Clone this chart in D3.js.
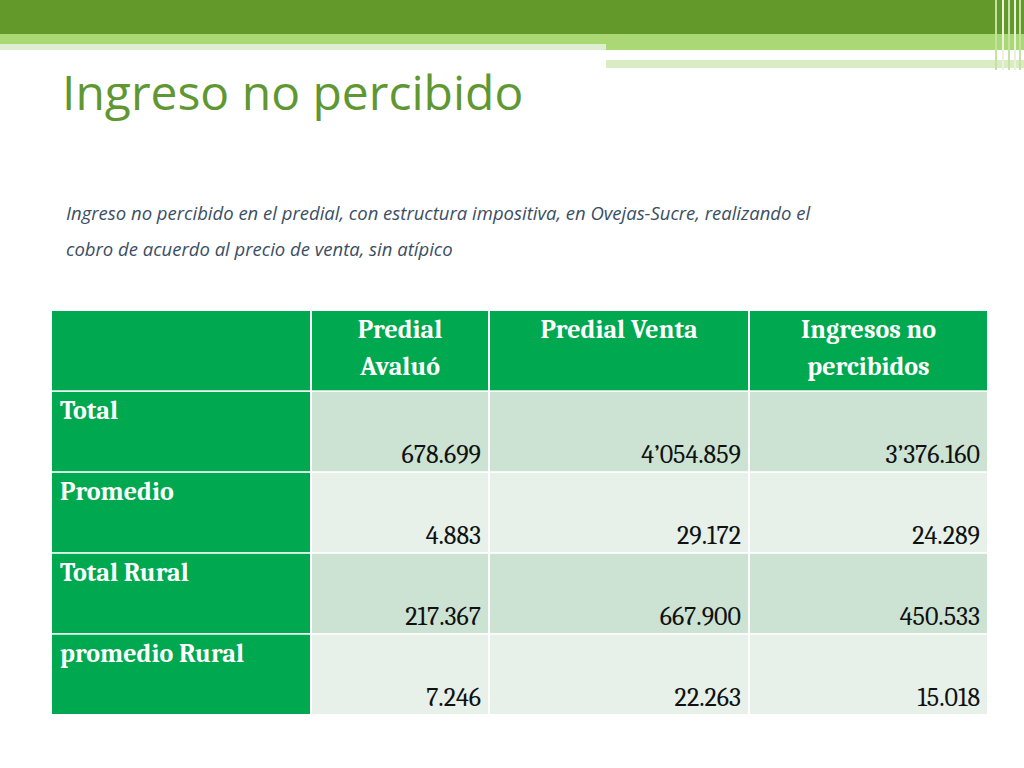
<!DOCTYPE html><html><head><meta charset="utf-8"><script src="https://cdn.jsdelivr.net/npm/d3@7"></script>
<style>body{margin:0;background:#fff}</style></head><body><svg id="s" width="1024" height="768"></svg>
<script>
const columns=["","Predial Avaluó","Predial Venta","Ingresos no percibidos"];
const rowLabels=["Total","Promedio","Total Rural","promedio Rural"];
const predialAvaluo=["678.699","4.883","217.367","7.246"];
const predialVenta=["4’054.859","29.172","667.900","22.263"];
const ingresosNo=["3’376.160","24.289","450.533","15.018"];
const svg=d3.select("#s");
// decoration
svg.append("rect").attr("x",0).attr("y",0).attr("width",1024).attr("height",34).attr("fill","#62992a");
svg.append("rect").attr("x",0).attr("y",34).attr("width",1024).attr("height",16).attr("fill","#a9d874");
svg.append("rect").attr("x",0).attr("y",44).attr("width",606).attr("height",6).attr("fill","#dfeed0");
svg.append("rect").attr("x",606).attr("y",56).attr("width",340).attr("height",4).attr("fill","#fff");
svg.append("rect").attr("x",606).attr("y",60).attr("width",420).attr("height",8).attr("fill","#d9ecc4");
svg.append("rect").attr("x",0).attr("y",50).attr("width",606).attr("height",4).attr("fill","#fff");
[995,1002,1008,1014,1019].forEach((x,i)=>svg.append("rect").attr("x",x).attr("y",0).attr("width",2).attr("height",70).attr("fill",i%2?"#e8f3dc":"#c5e2a4"));
svg.append("text").attr("x",62).attr("y",110).attr("font-family","Open Sans, sans-serif").attr("font-size",48).attr("fill","#5f9732").text("Ingreso no percibido");
const sub=["Ingreso no percibido en el predial, con estructura impositiva, en Ovejas-Sucre, realizando el","cobro de acuerdo al precio de venta, sin atípico"];
sub.forEach((t,i)=>svg.append("text").attr("x",66).attr("y",220+i*36).attr("font-family","Open Sans, sans-serif").attr("font-style","italic").attr("font-size",18.5).attr("fill","#3b4e63").text(t));
// table
const colEdges=[52,311,489,749,988];
const x=d3.scaleOrdinal().domain([0,1,2,3]).range(colEdges.slice(0,4));
const y=d3.scaleBand().domain(d3.range(5)).range([311,714]).paddingInner(0.02).paddingOuter(0);
const font="Cambria, Liberation Serif, DejaVu Serif, serif";
const vals=[predialAvaluo,predialVenta,ingresosNo];
for(let r=0;r<5;r++)for(let c=0;c<4;c++){
  const x0=colEdges[c]+(c?1:0),w=colEdges[c+1]-x0-1;
  let fill="#00a84f";
  if(r>0&&c>0) fill=(r%2)?"#cce3d3":"#e7f1ea";
  svg.append("rect").attr("x",x0).attr("y",y(r)).attr("width",w).attr("height",y.bandwidth()).attr("fill",fill);
  if(r===0&&c>0){
    const words=columns[c]==="Predial Venta"?["Predial Venta"]:columns[c]==="Predial Avaluó"?["Predial","Avaluó"]:["Ingresos no","percibidos"];
    words.forEach((t,i)=>svg.append("text").attr("x",x0+w/2).attr("y",y(0)+27+i*37).attr("text-anchor","middle").attr("font-family",font).attr("font-weight","bold").attr("font-size",26).attr("fill","#fff").text(t));
  } else if(r>0&&c===0){
    svg.append("text").attr("x",60).attr("y",y(r)+27).attr("font-family",font).attr("font-weight","bold").attr("font-size",26).attr("fill","#fff").text(rowLabels[r-1]);
  } else if(r>0){
    svg.append("text").attr("x",x0+w-7).attr("y",y(r)+y.bandwidth()-8).attr("text-anchor","end").attr("font-family",font).attr("font-size",26).attr("fill","#111").text(vals[c-1][r-1]);
  }
}
</script></body></html>
